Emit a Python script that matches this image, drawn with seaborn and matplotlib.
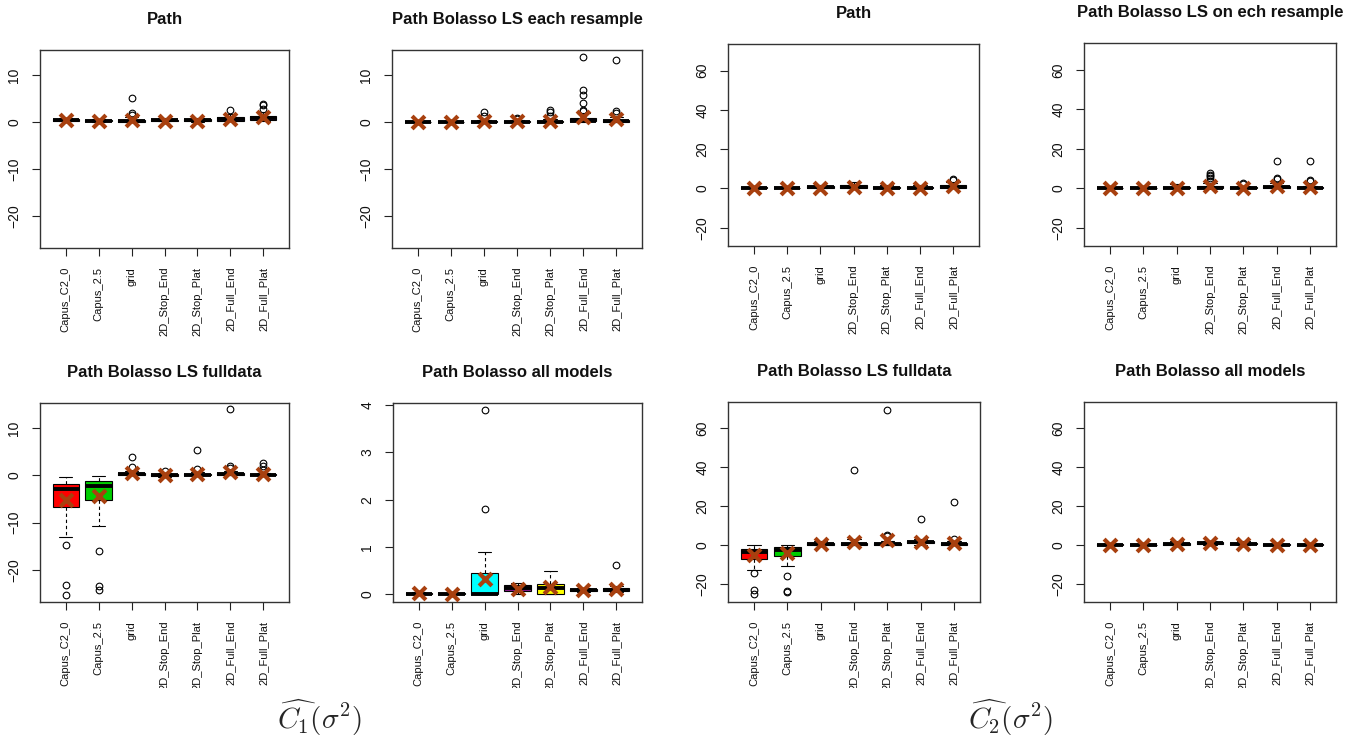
import matplotlib
matplotlib.use("Agg")
import matplotlib.pyplot as plt
from matplotlib.transforms import Bbox, TransformedBbox
import numpy as np
import pandas as pd
import seaborn as sns

sns.set_theme(style="ticks")
plt.rcParams["font.family"] = ["Liberation Sans", "DejaVu Sans"]
plt.rcParams["mathtext.fontset"] = "cm"

# ---------------- data ----------------
METHODS = ["Capus_C2_0", "Capus_2.5", "grid", "2D_Stop_End", "2D_Stop_Plat",
           "2D_Full_End", "2D_Full_Plat"]
BOX_COLORS = ["#FF0000", "#00CD00", "#00FFFF", "#8B1A8B", "#FFFF00", "#3A3AFF", "#8A2BE2"]
MEAN_COLOR = "#A8400F"

TITLES = ["Path", "Path Bolasso LS each resample", "Path", "Path Bolasso LS on ech resample",
          "Path Bolasso LS fulldata", "Path Bolasso all models", "Path Bolasso LS fulldata",
          "Path Bolasso all models"]

YTICKS_C1 = [-20, -10, 0, 10]
YTICKS_ALL = [0, 1, 2, 3, 4]
YTICKS_C2 = [-20, 0, 20, 40, 60]

# C1 - Path
p1_lo = [0.1, 0.0, 0.0, 0.1, 0.0, 0.1, 0.2]
p1_q1 = [0.2, 0.1, 0.0, 0.2, 0.2, 0.3, 0.4]
p1_med = [0.4, 0.2, 0.1, 0.35, 0.4, 0.6, 0.9]
p1_q3 = [0.6, 0.4, 0.4, 0.5, 0.6, 1.1, 1.3]
p1_hi = [0.8, 0.6, 1.0, 0.8, 0.9, 1.6, 2.2]
p1_mean = [0.4, 0.2, 0.5, 0.3, 0.3, 0.7, 1.0]
p1_out = [[], [], [1.5, 1.8, 5.1], [], [], [2.5], [2.7, 3.6, 3.9]]

# C1 - Path Bolasso LS each resample
p2_lo = [0.0, 0.0, 0.0, 0.0, 0.0, 0.0, 0.0]
p2_q1 = [0.0, 0.0, 0.0, 0.0, 0.0, 0.1, 0.0]
p2_med = [0.0, 0.0, 0.05, 0.05, 0.05, 0.3, 0.1]
p2_q3 = [0.05, 0.05, 0.2, 0.2, 0.2, 0.9, 0.5]
p2_hi = [0.1, 0.1, 0.5, 0.4, 0.6, 1.8, 1.0]
p2_mean = [0.0, 0.0, 0.2, 0.15, 0.3, 1.1, 0.6]
p2_out = [[], [], [1.3, 2.2], [0.7, 0.9], [1.2, 2.2, 2.6],
          [2.3, 2.5, 4.1, 5.8, 6.8, 13.9], [2.0, 2.3, 13.1]]

# C2 - Path
p3_lo = [0.0, 0.0, 0.0, 0.0, 0.0, 0.0, 0.0]
p3_q1 = [0.1, 0.0, 0.2, 0.2, 0.0, 0.0, 0.4]
p3_med = [0.3, 0.1, 0.6, 0.9, 0.3, 0.2, 1.0]
p3_q3 = [0.6, 0.4, 1.2, 1.8, 0.8, 0.6, 1.8]
p3_hi = [1.0, 0.8, 2.0, 3.3, 2.0, 1.8, 3.5]
p3_mean = [0.3, 0.1, 0.5, 1.0, 0.3, 0.3, 1.2]
p3_out = [[], [], [], [], [], [], [4.3, 4.8]]

# C2 - Path Bolasso LS on each resample
p4_lo = [0.0, 0.0, 0.0, 0.0, 0.0, 0.0, 0.0]
p4_q1 = [0.0, 0.0, 0.0, 0.0, 0.0, 0.1, 0.0]
p4_med = [0.0, 0.0, 0.2, 0.2, 0.1, 0.4, 0.1]
p4_q3 = [0.05, 0.05, 0.8, 1.0, 0.5, 1.0, 0.5]
p4_hi = [0.1, 0.1, 2.0, 2.5, 1.2, 2.5, 1.2]
p4_mean = [0.0, 0.0, 0.3, 1.0, 0.3, 1.2, 0.7]
p4_out = [[], [], [], [3.5, 5.0, 6.0, 6.8, 7.5], [2.3, 2.8], [4.5, 5.2, 13.7], [3.5, 4.0, 14.0]]

# C1 - Path Bolasso LS fulldata
p5_lo = [-13.0, -10.8, 0.0, -0.3, 0.0, 0.0, 0.0]
p5_q1 = [-6.8, -5.3, 0.0, -0.1, 0.0, 0.1, 0.0]
p5_med = [-2.9, -2.2, 0.2, 0.05, 0.1, 0.2, 0.05]
p5_q3 = [-1.9, -1.1, 0.5, 0.2, 0.3, 0.5, 0.2]
p5_hi = [-0.3, -0.1, 1.0, 0.5, 0.7, 1.0, 0.5]
p5_mean = [-5.2, -4.3, 0.4, 0.0, 0.3, 0.7, 0.3]
p5_out = [[-14.7, -23.2, -25.3], [-16.1, -23.5, -24.3], [1.8, 3.9], [1.0],
          [1.3, 5.4], [1.6, 1.9, 14.0], [1.2, 2.0, 2.7]]

# C1 - Path Bolasso all models
p6_lo = [0.0, 0.0, 0.0, 0.0, 0.0, 0.05, 0.05]
p6_q1 = [0.0, 0.0, 0.0, 0.07, 0.0, 0.07, 0.08]
p6_med = [0.01, 0.0, 0.0, 0.13, 0.14, 0.09, 0.10]
p6_q3 = [0.04, 0.02, 0.46, 0.19, 0.23, 0.11, 0.13]
p6_hi = [0.06, 0.03, 0.89, 0.24, 0.49, 0.13, 0.17]
p6_mean = [0.02, 0.0, 0.32, 0.12, 0.15, 0.09, 0.11]
p6_out = [[], [], [1.80, 3.89], [], [], [], [0.63]]

# C2 - Path Bolasso LS fulldata
p7_lo = [-12.9, -10.7, 0.0, 0.0, 0.0, 0.2, 0.0]
p7_q1 = [-7.0, -5.4, 0.0, 0.0, 0.0, 1.0, 0.0]
p7_med = [-3.7, -2.4, 0.6, 0.3, 0.3, 1.7, 0.5]
p7_q3 = [-2.0, -1.2, 1.2, 1.0, 0.8, 2.3, 1.0]
p7_hi = [0.0, 0.0, 2.0, 3.0, 2.0, 3.2, 2.0]
p7_mean = [-4.9, -4.1, 0.4, 1.4, 2.7, 1.8, 1.1]
p7_out = [[-14.4, -23.1, -25.3], [-16.1, -23.6, -24.4], [], [38.8],
          [4.5, 5.0, 69.5], [13.2], [3.3, 22.0]]

# C2 - Path Bolasso all models
p8_lo = [0.0, 0.0, 0.0, 0.0, 0.0, 0.0, 0.0]
p8_q1 = [0.0, 0.0, 0.0, 0.3, 0.3, 0.0, 0.0]
p8_med = [0.1, 0.05, 0.5, 0.8, 0.7, 0.1, 0.1]
p8_q3 = [0.3, 0.2, 1.2, 1.4, 1.2, 0.3, 0.4]
p8_hi = [0.5, 0.4, 2.0, 2.0, 2.2, 0.5, 0.6]
p8_mean = [0.1, 0.0, 0.5, 0.8, 0.7, 0.1, 0.1]
p8_out = [[], [], [], [], [], [], []]

# ---------------- figure ----------------
W, H = 1366, 742
fig = plt.figure(figsize=(W / 100, H / 100), dpi=100)
fig.patch.set_facecolor("white")

clip_bottom = TransformedBbox(Bbox([[0, 1 - 688 / H], [1, 1]]), fig.transFigure)


def fmt(v):
    return ("\u2212" + str(abs(v))) if v < 0 else str(v)


def panel(rect, title, lo, q1, med, q3, hi, mean, out, ylim, yticks, bottom_row=False):
    l, t, r, b = rect
    ax = fig.add_axes([l / W, 1 - b / H, (r - l) / W, (b - t) / H])
    pos = np.arange(1, len(METHODS) + 1)
    stats = [dict(whislo=lo[i], q1=q1[i], med=med[i], q3=q3[i], whishi=hi[i],
                  fliers=out[i], label=METHODS[i]) for i in range(len(METHODS))]
    bp = ax.bxp(stats, positions=pos, widths=0.8, capwidths=0.4, patch_artist=True,
                showfliers=True,
                boxprops=dict(edgecolor="black", linewidth=0.8),
                medianprops=dict(color="black", linewidth=2.8, solid_capstyle="butt"),
                whiskerprops=dict(color="black", linewidth=0.8, linestyle=(0, (3, 2.5))),
                capprops=dict(color="black", linewidth=0.8),
                flierprops=dict(marker="o", markerfacecolor="none", markeredgecolor="black",
                                markersize=4.8, markeredgewidth=0.8))
    for patch, c in zip(bp["boxes"], BOX_COLORS):
        patch.set_facecolor(c)
    df = pd.DataFrame({"pos": pos, "mean": mean})
    sns.scatterplot(data=df, x="pos", y="mean", marker="x", s=85, linewidth=3.0,
                    color=MEAN_COLOR, ax=ax, zorder=6, legend=False)
    ax.set_xlim(0.22, 7.78)
    ax.set_ylim(*ylim)
    ax.set_xticks(pos, labels=METHODS, rotation=90, fontsize=8, ha="center", va="top")
    ax.set_yticks(yticks, labels=[fmt(v) for v in yticks], rotation=90, fontsize=10,
                  va="center")
    ax.tick_params(axis="both", direction="out", length=5.5, width=0.8, pad=8,
                   color="#222222", labelcolor="#111111", bottom=True, left=True)
    ax.set_xlabel("")
    ax.set_ylabel("")
    for s in ax.spines.values():
        s.set_color("#333333")
        s.set_linewidth(1.0)
    ax.set_title(title, fontsize=12, fontweight="bold", pad=19, color="#111111")
    if bottom_row:
        for lbl in ax.get_xticklabels():
            lbl.set_clip_on(True)
            lbl.set_clip_box(clip_bottom)
    return ax


YL_C1 = (-26.8, 15.3)
YL_ALL = (-0.16, 4.04)
YL_C2 = (-29.3, 73.6)

panel((40, 50, 289, 248), TITLES[0], p1_lo, p1_q1, p1_med, p1_q3, p1_hi, p1_mean, p1_out,
      YL_C1, YTICKS_C1)
panel((392, 50, 642, 248), TITLES[1], p2_lo, p2_q1, p2_med, p2_q3, p2_hi, p2_mean, p2_out,
      YL_C1, YTICKS_C1)
panel((728, 44, 979, 246), TITLES[2], p3_lo, p3_q1, p3_med, p3_q3, p3_hi, p3_mean, p3_out,
      YL_C2, YTICKS_C2)
panel((1084, 43, 1336, 246), TITLES[3], p4_lo, p4_q1, p4_med, p4_q3, p4_hi, p4_mean, p4_out,
      YL_C2, YTICKS_C2)
panel((40, 403, 289, 602), TITLES[4], p5_lo, p5_q1, p5_med, p5_q3, p5_hi, p5_mean, p5_out,
      YL_C1, YTICKS_C1, bottom_row=True)
panel((393, 403, 642, 602), TITLES[5], p6_lo, p6_q1, p6_med, p6_q3, p6_hi, p6_mean, p6_out,
      YL_ALL, YTICKS_ALL, bottom_row=True)
panel((728, 402, 980, 602), TITLES[6], p7_lo, p7_q1, p7_med, p7_q3, p7_hi, p7_mean, p7_out,
      YL_C2, YTICKS_C2, bottom_row=True)
panel((1084, 402, 1336, 602), TITLES[7], p8_lo, p8_q1, p8_med, p8_q3, p8_hi, p8_mean, p8_out,
      YL_C2, YTICKS_C2, bottom_row=True)

fig.text(320 / W, 1 - 718 / H, r"$\widehat{C_1}(\sigma^2)$", fontsize=21, ha="center", va="center")
fig.text(1011 / W, 1 - 718 / H, r"$\widehat{C_2}(\sigma^2)$", fontsize=21, ha="center", va="center")

fig.savefig("out.png", dpi=100, facecolor="white")
